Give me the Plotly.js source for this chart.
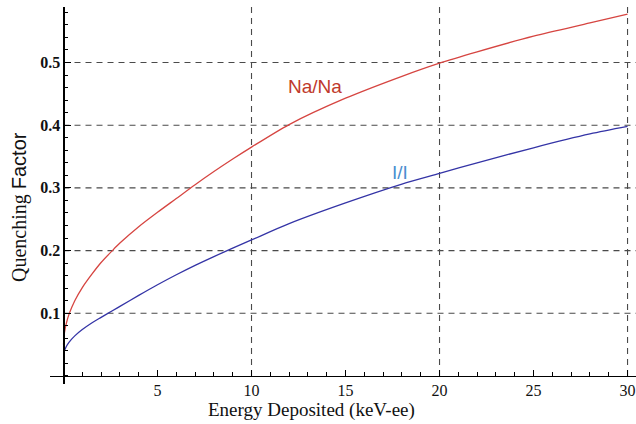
<!DOCTYPE html>
<html>
<head>
<meta charset="utf-8">
<script src="https://cdn.plot.ly/plotly-3.0.1.min.js"></script>
<style>html,body{margin:0;padding:0;background:#fff;}#chart{width:636px;height:424px;}</style>
</head>
<body>
<div id="chart"></div>
<script>
// Energy deposited (keV-ee)
var energy = [0, 0.05, 0.15, 0.3, 0.6, 1, 1.5, 2, 2.6, 3, 4, 5, 6, 7, 8, 9, 10, 12, 15, 18, 20, 22, 25, 28, 30];
// Quenching factor, Na/Na
var naNa = [0.05, 0.069, 0.084, 0.099, 0.12, 0.141, 0.162, 0.181, 0.200, 0.212, 0.238, 0.261, 0.283, 0.305, 0.326, 0.346, 0.365, 0.401, 0.443, 0.478, 0.499, 0.517, 0.542, 0.563, 0.577];
// Quenching factor, I/I
var iI = [0.035, 0.04, 0.047, 0.054, 0.064, 0.074, 0.0845, 0.0935, 0.104, 0.111, 0.1285, 0.1455, 0.1615, 0.1765, 0.1905, 0.204, 0.217, 0.243, 0.276, 0.306, 0.323, 0.340, 0.364, 0.386, 0.398];

var xTickVals = [5, 10, 15, 20, 25, 30];
var xTickText = ['5', '10', '15', '20', '25', '30'];
var yTickVals = [0.1, 0.2, 0.3, 0.4, 0.5];
var yTickText = ['0.1', '0.2', '0.3', '0.4', '0.5'];
var gridX = [10, 20, 30];
var gridY = [0.1, 0.2, 0.3, 0.4, 0.5];

var xRange = [-0.718, 30.45];
var yRange = [-0.0128, 0.5885];

var traces = [
  {x: energy, y: naNa, type: 'scatter', mode: 'lines', line: {color: '#d64541', width: 1.3, shape: 'spline', smoothing: 0.8}, hoverinfo: 'skip'},
  {x: energy, y: iI, type: 'scatter', mode: 'lines', line: {color: '#3434a6', width: 1.3, shape: 'spline', smoothing: 0.8}, hoverinfo: 'skip'}
];

var shapes = [];
gridX.forEach(function (v) {
  shapes.push({type: 'line', xref: 'x', yref: 'y', x0: v, x1: v, y0: 0, y1: yRange[1], layer: 'below',
    line: {color: '#4a4a4a', width: 1.1, dash: '6px,5px'}});
});
gridY.forEach(function (v) {
  shapes.push({type: 'line', xref: 'x', yref: 'y', x0: 0, x1: xRange[1], y0: v, y1: v, layer: 'below',
    line: {color: '#4a4a4a', width: 1.1, dash: '6px,5px'}});
});

var xPos = (0 - yRange[0]) / (yRange[1] - yRange[0]);
var yPos = (0 - xRange[0]) / (xRange[1] - xRange[0]);

var layout = {
  width: 636, height: 424,
  margin: {l: 50, r: 0, t: 7, b: 40},
  paper_bgcolor: '#fff', plot_bgcolor: '#fff',
  showlegend: false,
  xaxis: {
    range: xRange, anchor: 'free', position: xPos, automargin: false,
    showgrid: false, zeroline: false, showline: true, linecolor: '#000', linewidth: 1.2,
    tickmode: 'array', tickvals: xTickVals, ticktext: xTickText,
    ticks: 'inside', ticklen: 6, tickwidth: 1.2, tickcolor: '#000',
    minor: {tickmode: 'linear', tick0: 0, dtick: 1, ticks: 'inside', ticklen: 3.5, tickwidth: 1, tickcolor: '#000', showgrid: false},
    tickfont: {family: 'Liberation Serif', size: 16, color: '#111'}
  },
  yaxis: {
    range: yRange, anchor: 'free', position: yPos, automargin: false,
    showgrid: false, zeroline: false, showline: true, linecolor: '#000', linewidth: 1.2,
    tickmode: 'array', tickvals: yTickVals, ticktext: yTickText,
    ticks: 'inside', ticklen: 6, tickwidth: 1.2, tickcolor: '#000',
    minor: {tickmode: 'linear', tick0: 0, dtick: 0.02, ticks: 'inside', ticklen: 3.5, tickwidth: 1, tickcolor: '#000', showgrid: false},
    tickfont: {family: 'Liberation Serif', size: 16, color: '#111', weight: 'bold'}
  },
  shapes: shapes,
  annotations: [
    {xref: 'paper', yref: 'paper', x: (311 - 50) / 586, y: (384 - 410) / 377, xanchor: 'center', yanchor: 'middle',
     text: 'Energy Deposited (keV-ee)', showarrow: false, font: {family: 'Liberation Serif', size: 19, color: '#111'}},
    {xref: 'paper', yref: 'paper', x: (19 - 50) / 586, y: (384 - 207) / 377, xanchor: 'center', yanchor: 'middle', textangle: -90,
     text: 'Quenching <span style="font-family:Liberation Sans">Factor</span>', showarrow: false,
     font: {family: 'Liberation Serif', size: 20, color: '#111'}},
    {xref: 'x', yref: 'y', x: 13.4, y: 0.461, text: 'Na/Na', showarrow: false,
     font: {family: 'Liberation Sans', size: 19, color: '#c0392b'}},
    {xref: 'x', yref: 'y', x: 17.9, y: 0.3246, text: 'I/I', showarrow: false,
     font: {family: 'Liberation Sans', size: 19, color: '#4a8fd0'}}
  ]
};

Plotly.newPlot('chart', traces, layout, {staticPlot: true, displayModeBar: false});
</script>
</body>
</html>
